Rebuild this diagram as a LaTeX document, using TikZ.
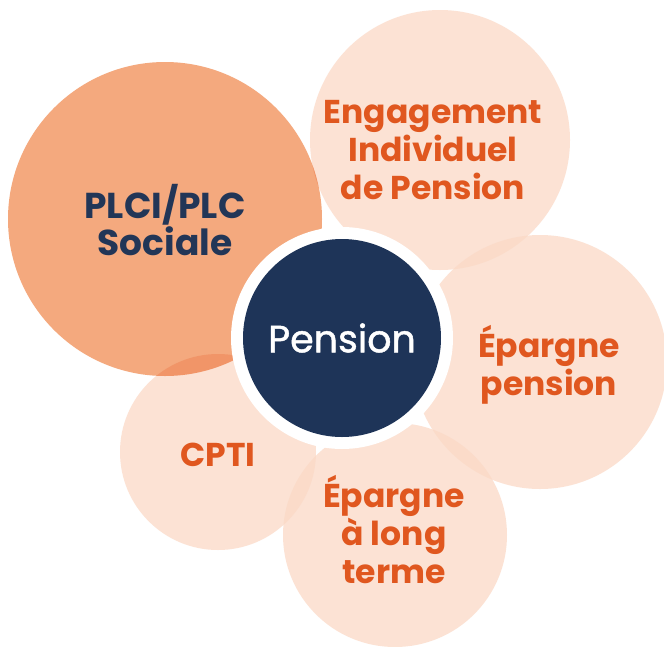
\documentclass[tikz,border=0pt]{standalone}
\usepackage{fontspec}
\setmainfont{Poppins}
\definecolor{plci}{HTML}{F4A97E}
\definecolor{light}{HTML}{FBD9C6}
\definecolor{navy}{HTML}{1E3458}
\definecolor{orangetxt}{HTML}{E0571F}
\definecolor{navytxt}{HTML}{223657}
\begin{document}
\begin{tikzpicture}[x=1pt,y=-1pt,
  bubble/.style={fill=light, fill opacity=0.75},
  lbl/.style={align=center, inner sep=0pt, font=\fontsize{33}{38}\selectfont\bfseries, text=orangetxt},
  darklbl/.style={lbl, font=\fontsize{36}{37}\selectfont\bfseries, text=navytxt}]
\useasboundingbox (0,0) rectangle (664,646);
\fill[white] (0,0) rectangle (664,646);
% bubbles
\fill[bubble] (440,140) circle (130);
\fill[bubble] (540,362) circle (127);
\fill[bubble] (395,535) circle (112);
\fill[bubble] (218,452) circle (98);
\fill[plci, blend mode=multiply] (165,219) circle (157);
% centre
\fill[white] (342,338) circle (111);
\node[circle, fill=navy, minimum size=198pt, inner sep=0pt] (pension) at (342,338) {};
% labels
\node[darklbl] (plcitxt) at (165,220) {PLCI/PLC\\Sociale};
\node[lbl] (eip) at (433,150) {Engagement\\Individuel\\de Pension};
\node[lbl] (ep) at (549,365) {Épargne\\pension};
\node[lbl] (elt) at (394,530) {Épargne\\à long\\terme};
\node[lbl] (cpti) at (218,455) {CPTI};
\node[align=center, inner sep=0pt, font=\fontsize{38}{40}\selectfont\addfontfeatures{FakeBold=1.2}, text=white] (pensiontxt) at (pension.center) {Pension};
\end{tikzpicture}
\end{document}
